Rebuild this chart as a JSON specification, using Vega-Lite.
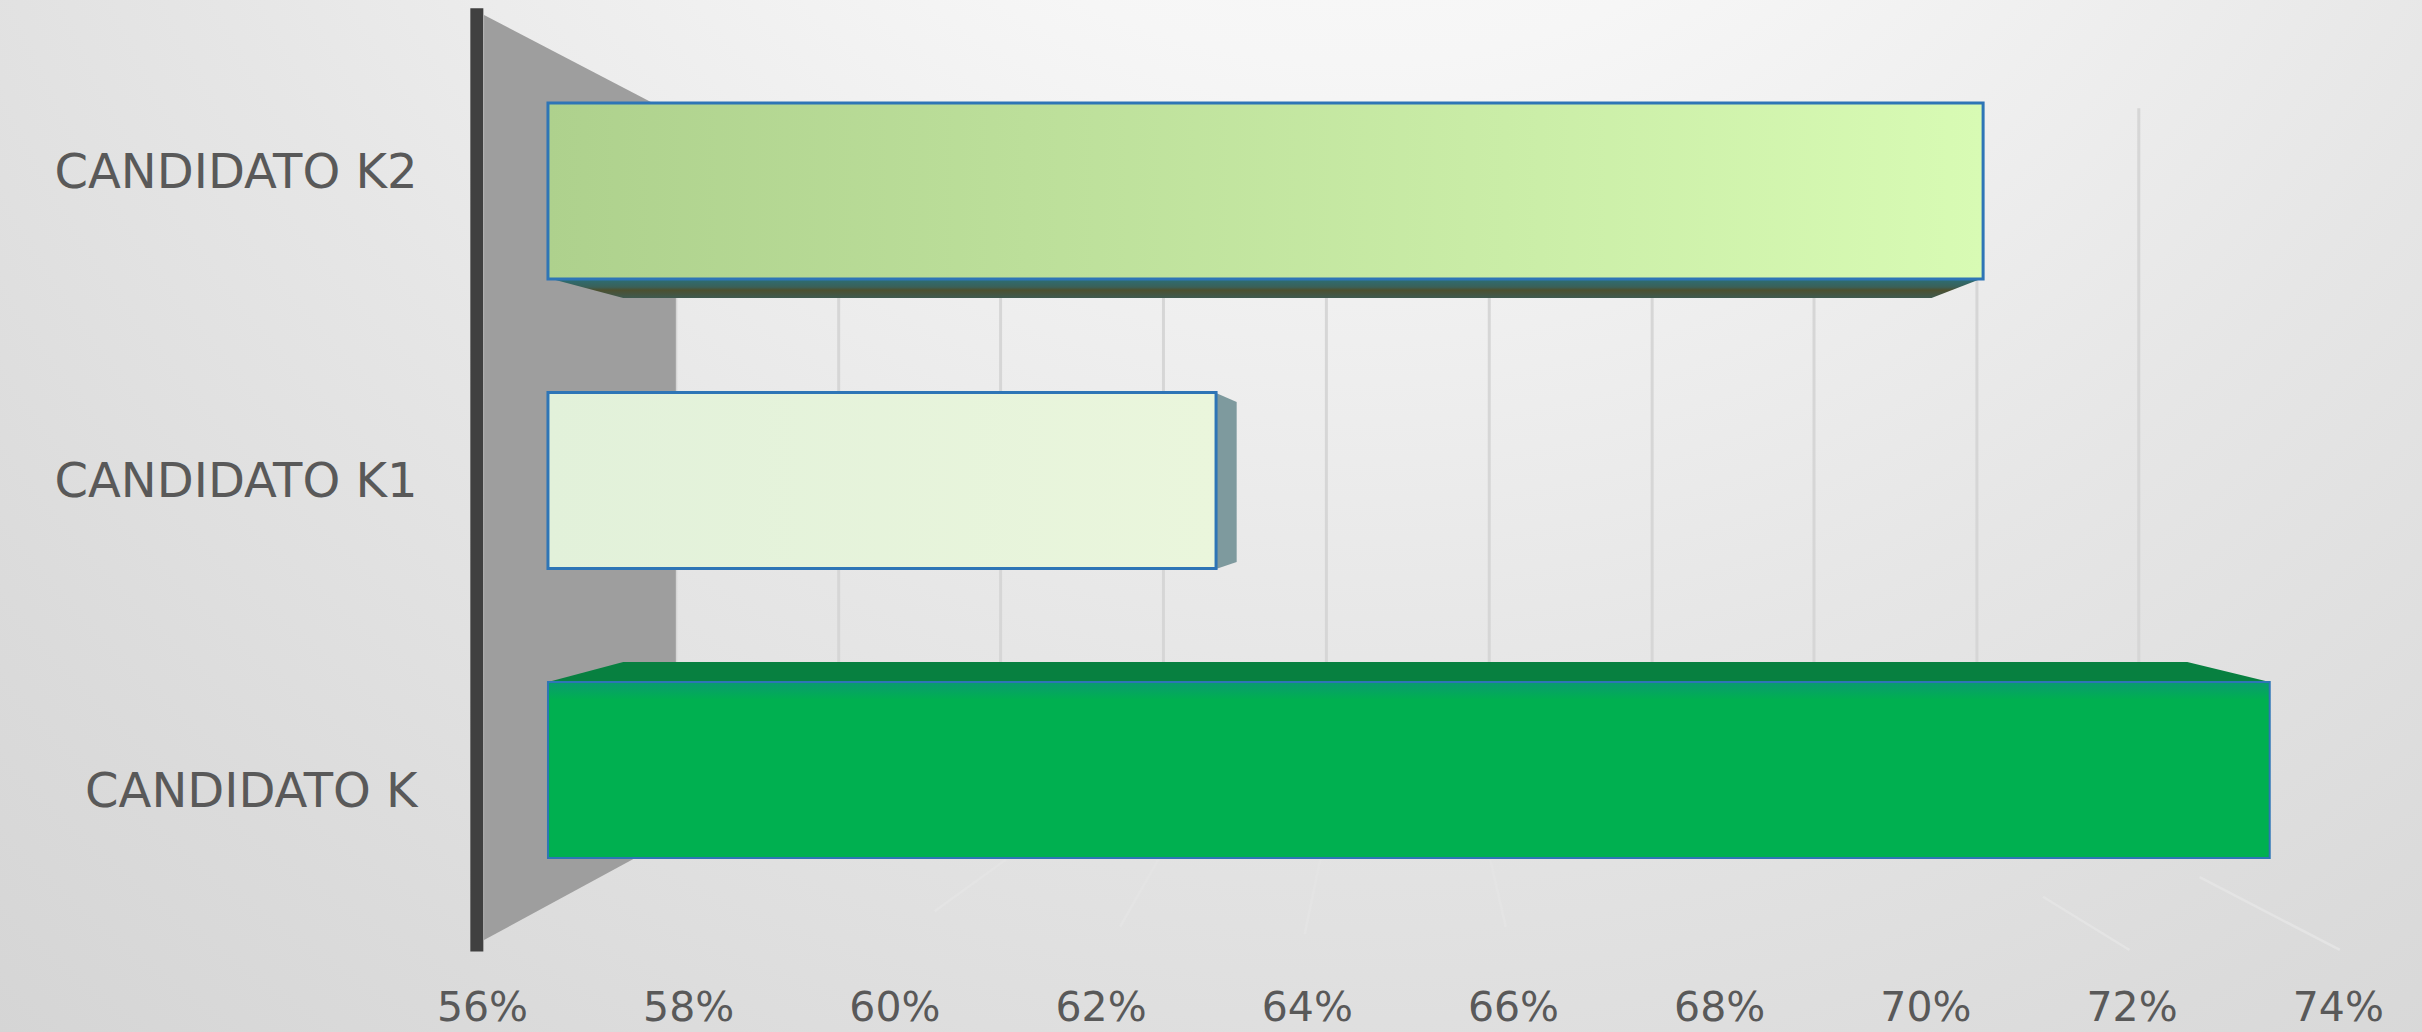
{"$schema":"https://vega.github.io/schema/vega-lite/v6.json","width":2422,"height":1032,"padding":0,"autosize":"none","background":"#e0e0e0","config":{"view":{"stroke":null}},
"datasets":{
"votes":[{"candidate":"CANDIDATO K2","start":56.64,"pct":70.56},{"candidate":"CANDIDATO K1","start":56.64,"pct":63.12},{"candidate":"CANDIDATO K","start":56.64,"pct":73.34}],
"grid":[{"g":57.88,"y":9.9,"y2":64.4},{"g":59.46,"y":9.9,"y2":64.4},{"g":61.03,"y":9.9,"y2":64.4},{"g":62.61,"y":9.9,"y2":64.4},{"g":64.19,"y":9.9,"y2":64.4},{"g":65.77,"y":9.9,"y2":64.4},{"g":67.35,"y":9.9,"y2":64.4},{"g":68.92,"y":9.9,"y2":64.4},{"g":70.5,"y":9.9,"y2":64.4},{"g":72.07,"y":10.5,"y2":64.4}],
"floor":[{"id":"a","g":72.66,"y":85.0},{"id":"a","g":74.02,"y":92.05},{"id":"b","g":71.14,"y":86.9},{"id":"b","g":71.98,"y":92.05},{"id":"d","g":61.08,"y":83.3},{"id":"d","g":60.39,"y":88.3},{"id":"e","g":62.56,"y":83.3},{"id":"e","g":62.19,"y":89.8},{"id":"f","g":64.13,"y":83.3},{"id":"f","g":63.98,"y":90.5},{"id":"g","g":65.78,"y":83.3},{"id":"g","g":65.93,"y":89.8}]
},
"layer":[
{"data":{"values":[{"a":51.325,"b":74.817,"t":0,"u":100}]},
 "mark":{"type":"rect","color":{"gradient":"radial","x1":0.56,"y1":0.05,"r1":0,"x2":0.56,"y2":0.05,"r2":1.05,"stops":[{"offset":0,"color":"#ffffff"},{"offset":0.25,"color":"#f6f6f6"},{"offset":0.5,"color":"#e6e6e6"},{"offset":0.7,"color":"#dbdbdb"},{"offset":0.85,"color":"#d4d4d4"},{"offset":1,"color":"#bebebe"}]}},
 "encoding":{"x":{"field":"a","type":"quantitative","scale":{"domain":[51.325,74.817],"nice":false,"zero":false},"axis":null},"x2":{"field":"b"},"y":{"field":"t","type":"quantitative","scale":{"domain":[100,0],"nice":false,"zero":false},"axis":null},"y2":{"field":"u"}}},
{"data":{"name":"grid"},"mark":{"type":"rule","color":"#d6d6d6","strokeWidth":3},
 "encoding":{"x":{"field":"g","type":"quantitative","axis":null},"y":{"field":"y","type":"quantitative","scale":{"domain":[100,0],"nice":false,"zero":false},"axis":null},"y2":{"field":"y2"}}},
{"data":{"name":"floor"},"mark":{"type":"line","color":"#e4e4e4","strokeWidth":2.5},
 "encoding":{"x":{"field":"g","type":"quantitative","axis":null},"y":{"field":"y","type":"quantitative","scale":{"domain":[100,0],"nice":false,"zero":false},"axis":null},"detail":{"field":"id"},"order":{"field":"y"}}},
{"data":{"values":[{"g":56.02,"y":1.45,"y2":91.09},{"g":57.88,"y":11.14,"y2":81.0}]},"mark":{"type":"area","color":"#9e9e9e"},
 "encoding":{"x":{"field":"g","type":"quantitative","axis":null},"y":{"field":"y","type":"quantitative","scale":{"domain":[100,0],"nice":false,"zero":false},"axis":null},"y2":{"field":"y2"}}},
{"data":{"values":[{"g":55.95,"y":0.8,"y2":92.2}]},"mark":{"type":"rule","color":"#404040","strokeWidth":13},
 "encoding":{"x":{"field":"g","type":"quantitative","axis":null},"y":{"field":"y","type":"quantitative","scale":{"domain":[100,0],"nice":false,"zero":false},"axis":null},"y2":{"field":"y2"}}},
{"data":{"values":[{"g":56.64,"y":26.94,"y2":26.94},{"g":57.37,"y":26.94,"y2":28.88},{"g":70.06,"y":26.94,"y2":28.88},{"g":70.56,"y":26.94,"y2":26.94}]},"mark":{"type":"area","color":{"gradient":"linear","x1":0,"y1":0,"x2":0,"y2":1,"stops":[{"offset":0,"color":"#2a7078"},{"offset":0.45,"color":"#3a6058"},{"offset":0.6,"color":"#4c5030"},{"offset":1,"color":"#3f5a50"}]}},
 "encoding":{"x":{"field":"g","type":"quantitative","axis":null},"y":{"field":"y","type":"quantitative","scale":{"domain":[100,0],"nice":false,"zero":false},"axis":null},"y2":{"field":"y2"}}},
{"data":{"values":[{"g":63.12,"y":38.08,"y2":55.14},{"g":63.32,"y":38.95,"y2":54.46}]},"mark":{"type":"area","color":"#7e9a9e"},
 "encoding":{"x":{"field":"g","type":"quantitative","axis":null},"y":{"field":"y","type":"quantitative","scale":{"domain":[100,0],"nice":false,"zero":false},"axis":null},"y2":{"field":"y2"}}},
{"data":{"values":[{"g":56.64,"y":66.09,"y2":66.09},{"g":57.37,"y":64.15,"y2":66.09},{"g":72.54,"y":64.15,"y2":66.09},{"g":73.34,"y":66.09,"y2":66.09}]},"mark":{"type":"area","color":"#078040"},
 "encoding":{"x":{"field":"g","type":"quantitative","axis":null},"y":{"field":"y","type":"quantitative","scale":{"domain":[100,0],"nice":false,"zero":false},"axis":null},"y2":{"field":"y2"}}},
{"data":{"name":"votes"},"transform":[{"filter":"datum.candidate==='CANDIDATO K2'"}],"mark":{"type":"bar","stroke":"#2E75B6","strokeWidth":3,"color":{"gradient":"linear","x1":0,"y1":0,"x2":1,"y2":0,"stops":[{"offset":0,"color":"#AED18D"},{"offset":1,"color":"#D8FBB4"}]}},
 "encoding":{"x":{"field":"start","type":"quantitative","axis":null},"x2":{"field":"pct"},"y":{"field":"candidate","type":"nominal","scale":{"domain":["CANDIDATO K2","CANDIDATO K1","CANDIDATO K"],"range":[103,858],"paddingInner":0.392,"paddingOuter":0},"axis":null}}},
{"data":{"name":"votes"},"transform":[{"filter":"datum.candidate==='CANDIDATO K1'"}],"mark":{"type":"bar","stroke":"#2E75B6","strokeWidth":3,"color":{"gradient":"linear","x1":0,"y1":0,"x2":1,"y2":0,"stops":[{"offset":0,"color":"#E2F1DA"},{"offset":1,"color":"#EAF6DC"}]}},
 "encoding":{"x":{"field":"start","type":"quantitative","axis":null},"x2":{"field":"pct"},"y":{"field":"candidate","type":"nominal","scale":{"domain":["CANDIDATO K2","CANDIDATO K1","CANDIDATO K"],"range":[103,858],"paddingInner":0.392,"paddingOuter":0},"axis":null}}},
{"data":{"name":"votes"},"transform":[{"filter":"datum.candidate==='CANDIDATO K'"}],"mark":{"type":"bar","strokeWidth":2,"stroke":"#2E75B6","color":{"gradient":"linear","x1":0,"y1":0,"x2":0,"y2":1,"stops":[{"offset":0,"color":"#0A9A70"},{"offset":0.1,"color":"#00B050"},{"offset":1,"color":"#00B050"}]}},
 "encoding":{"x":{"field":"start","type":"quantitative","axis":null},"x2":{"field":"pct"},"y":{"field":"candidate","type":"nominal","scale":{"domain":["CANDIDATO K2","CANDIDATO K1","CANDIDATO K"],"range":[103,858],"paddingInner":0.392,"paddingOuter":0},"axis":null}}},
{"data":{"name":"votes"},"mark":{"type":"point","opacity":0},
 "encoding":{"x":{"field":"pct","type":"quantitative","axis":{"values":[56,58,60,62,64,66,68,70,72,74],"labelExpr":"format(datum.value,'d')+'%'","title":null,"domain":false,"ticks":false,"grid":false,"orient":"bottom","offset":-50,"labelPadding":6,"labelFont":"DejaVu Sans","labelFontSize":41,"labelColor":"#595959","labelOverlap":false,"zindex":2}},
 "y":{"field":"candidate","type":"nominal","scale":{"type":"point","domain":["CANDIDATO K2","CANDIDATO K1","CANDIDATO K"],"range":[173,792],"padding":0},"axis":{"title":null,"domain":false,"ticks":false,"grid":false,"offset":-427,"labelPadding":10,"labelFont":"DejaVu Sans","labelFontSize":48,"labelColor":"#595959","labelOverlap":false,"labelLimit":500,"zindex":2}}}}
],
"resolve":{"scale":{"y":"independent"},"axis":{"y":"independent","x":"independent"}}}
